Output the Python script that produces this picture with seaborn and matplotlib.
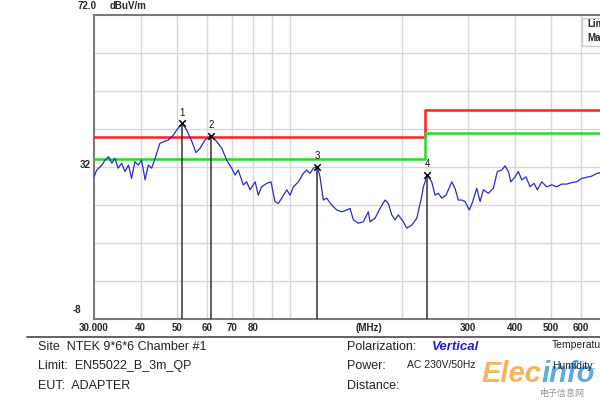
import numpy as np
import pandas as pd
import matplotlib
matplotlib.use("Agg")
import matplotlib.pyplot as plt
from matplotlib.lines import Line2D
from matplotlib.patches import Rectangle
import seaborn as sns

# trace (MHz, dBuV/m)
freq = [30.0, 30.5, 31.5, 32.1, 32.8, 33.5, 34.1, 34.8, 35.6, 36.3, 37.1, 37.8,
        38.6, 39.4, 40.2, 41.1, 41.9, 42.8, 43.7, 45.0, 46.2, 47.4, 48.7, 49.9,
        51.6, 53.1, 54.8, 56.2, 57.6, 59.4, 61.6, 63.9, 65.9, 67.9, 70.0, 71.5,
        72.9, 75.2, 76.8, 78.4, 80.9, 82.5, 84.2, 86.9, 89.2, 91.4, 93.3, 95.3,
        98.3, 100.3, 102.4, 105.6, 108.8, 111.2, 113.4, 115.8, 118.6, 120.6,
        123.1, 125.7, 129.6, 133.7, 137.9, 142.2, 145.1, 148.1, 152.7, 157.5,
        162.4, 164.1, 169.2, 174.5, 180.0, 183.7, 187.6, 191.4, 195.3, 201.4,
        205.7, 212.1, 218.8, 223.3, 225.6, 227.9, 233.6, 239.9, 244.9, 249.9,
        255.2, 262.1, 271.4, 276.9, 282.6, 288.6, 294.5, 302.4, 308.8, 316.5,
        323.1, 329.8, 340.0, 350.6, 359.3, 369.3, 376.8, 384.6, 390.3, 400.7,
        408.9, 417.6, 428.6, 439.4, 450.3, 459.6, 472.2, 487.0, 502.3, 518.0,
        534.2, 550.9, 568.2, 585.9, 604.2, 623.1, 642.6, 662.7, 676.3]
level = [29.4, 31.2, 32.5, 33.8, 34.7, 33.0, 34.3, 31.7, 33.0, 30.8, 32.5, 29.0,
         33.4, 32.5, 33.8, 28.6, 32.5, 31.7, 34.3, 38.2, 38.7, 39.1, 40.2, 41.7,
         43.5, 41.7, 38.7, 35.8, 36.9, 39.1, 40.2, 38.7, 36.9, 33.8, 31.7, 29.9,
         31.2, 27.3, 28.1, 26.0, 28.1, 24.6, 26.8, 27.7, 28.1, 22.9, 22.4, 23.8,
         26.0, 24.6, 26.8, 28.1, 30.3, 31.2, 30.3, 31.7, 32.1, 29.4, 23.3, 23.8,
         22.0, 20.7, 20.2, 20.7, 21.1, 18.1, 17.2, 17.6, 20.2, 17.6, 18.5, 21.1,
         23.3, 22.4, 19.4, 18.1, 19.4, 17.6, 15.9, 16.7, 18.5, 22.4, 24.2, 26.8,
         29.9, 28.1, 24.6, 25.1, 23.8, 24.6, 28.1, 26.4, 23.3, 23.3, 22.9, 20.7,
         22.9, 26.4, 22.9, 26.0, 25.1, 26.4, 30.8, 31.2, 32.3, 30.8, 28.1, 29.4,
         30.8, 28.6, 29.4, 26.8, 27.7, 26.0, 28.1, 26.8, 27.3, 26.8, 27.5, 27.5,
         27.9, 28.1, 29.0, 29.3, 29.6, 30.3, 30.5]

# EN55022 class B limit and margin (step at 230 MHz)
limit_freq = [30, 230, 230, 1000]
limit_level = [40, 40, 47, 47]
margin_level = [34, 34, 41, 41]

# peak markers
mark_no = ["1", "2", "3", "4"]
mark_freq = [51.6, 61.6, 118.6, 233.6]
mark_level = [43.5, 40.2, 32.1, 29.9]

xtick_vals = [30, 40, 50, 60, 70, 80, 300, 400, 500, 600]
xtick_labels = ["30.000", "40", "50", "60", "70", "80", "300", "400", "500", "600"]
xgrid = [40, 50, 60, 70, 80, 90, 100, 200, 300, 400, 500, 600, 700, 800, 900]
ygrid = [62, 52, 42, 32, 22, 12, 2]

sns.set_style("white")
plt.rcParams["font.family"] = ["Liberation Sans", "DejaVu Sans"]

W, H = 600, 401
fig = plt.figure(figsize=(6, 4.01), dpi=100)
ax = fig.add_axes([94 / W, 82 / H, 569.6 / W, 304 / H])
ax.set_xscale("log")
ax.set_xlim(30, 1000)
ax.set_ylim(-8, 72)

for g in xgrid:
    ax.axvline(g, color="#d8d8d8", lw=1, zorder=0)
for g in ygrid:
    ax.axhline(g, color="#d8d8d8", lw=1, zorder=0)

trace = pd.DataFrame({"freq": freq, "level": level})
lim = pd.DataFrame({"freq": limit_freq, "limit": limit_level, "margin": margin_level})

sns.lineplot(data=lim, x="freq", y="limit", ax=ax, color="#ff1f1f", lw=1.8,
             estimator=None, sort=False, zorder=3)
sns.lineplot(data=lim, x="freq", y="margin", ax=ax, color="#22dd22", lw=1.8,
             estimator=None, sort=False, zorder=3)
sns.lineplot(data=trace, x="freq", y="level", ax=ax, color="#2a2ad0", lw=0.9,
             estimator=None, sort=False, zorder=4)

ax.vlines(mark_freq, -8, mark_level, color="#333333", lw=1.1, zorder=5)
sns.scatterplot(x=mark_freq, y=mark_level, ax=ax, marker="x", color="black",
                s=22, linewidth=1.1, zorder=6)
for n, f, v in zip(mark_no, mark_freq, mark_level):
    ax.annotate(n, (f, v), xytext=(0, 4), textcoords="offset points",
                ha="center", va="bottom", fontsize=7, color="#111111")

ax.set_xlabel("")
ax.set_ylabel("")
ax.set_xticks(xtick_vals)
ax.set_xticklabels(xtick_labels, fontsize=7, fontweight="bold")
ax.xaxis.set_minor_locator(matplotlib.ticker.NullLocator())
ax.tick_params(axis="x", length=0, pad=3)
ax.set_yticks([])
ax.text(163, -9.1, "(MHz)", ha="center", va="top", fontsize=7, fontweight="bold")

for side in ["left", "top", "bottom"]:
    ax.spines[side].set_color("#7a7a7a")
    ax.spines[side].set_linewidth(1.5)
ax.spines["right"].set_visible(False)

# axis annotations
fig.text(78 / W, 1 - 6 / H, "72.0", fontsize=7, fontweight="bold", va="center")
fig.text(110 / W, 1 - 6 / H, "dBuV/m", fontsize=7, fontweight="bold", va="center")
fig.text(80 / W, 1 - 165 / H, "32", fontsize=7, fontweight="bold", va="center")
fig.text(73 / W, 1 - 310 / H, "-8", fontsize=7, fontweight="bold", va="center")

# legend box, cut at the right edge as in the source
fig.add_artist(Rectangle((582 / W, 1 - 46 / H), 40 / W, 28 / H, transform=fig.transFigure,
                         facecolor="white", edgecolor="#cccccc", lw=1, zorder=10))
fig.text(587 / W, 1 - 24 / H, "Limit:", fontsize=7, fontweight="bold", va="center", zorder=11)
fig.text(587 / W, 1 - 38 / H, "Margin:", fontsize=7, fontweight="bold", va="center", zorder=11)

# info block below the chart
fig.add_artist(Line2D([27 / W, 1.0], [1 - 337 / H, 1 - 337 / H], transform=fig.transFigure,
                      color="#555555", lw=1.3))
info = dict(fontsize=9, color="#222222", va="center")
fig.text(38 / W, 1 - 347 / H, "Site  NTEK 9*6*6 Chamber #1", **info)
fig.text(38 / W, 1 - 366 / H, "Limit:  EN55022_B_3m_QP", **info)
fig.text(38 / W, 1 - 386 / H, "EUT:  ADAPTER", **info)
fig.text(347 / W, 1 - 347 / H, "Polarization:", **info)
fig.text(432 / W, 1 - 347 / H, "Vertical", fontsize=9.5, color="#2020cc",
         fontweight="bold", style="italic", va="center")
fig.text(347 / W, 1 - 366 / H, "Power:", **info)
fig.text(407 / W, 1 - 365 / H, "AC 230V/50Hz", fontsize=7.5, color="#222222", va="center")
fig.text(347 / W, 1 - 386 / H, "Distance:", **info)
fig.text(552 / W, 1 - 345 / H, "Temperature:", fontsize=7.5, color="#222222", va="center")

# watermark
fig.text(481 / W, 1 - 374 / H, "Elec", fontsize=21, color="#f5a640", fontweight="bold",
         style="italic", va="center", alpha=0.85)
fig.text(541 / W, 1 - 374 / H, "info", fontsize=21, color="#3d9fe0", fontweight="bold",
         style="italic", va="center", alpha=0.85)
fig.text(540 / W, 1 - 393 / H, "电子信息网", fontsize=6.5, color="#999999", va="center",
         family=["Noto Sans CJK SC", "DejaVu Sans"])
fig.text(552 / W, 1 - 366 / H, "Humidity:", fontsize=7.5, color="#222222", va="center")

fig.savefig("out.png", dpi=100)
